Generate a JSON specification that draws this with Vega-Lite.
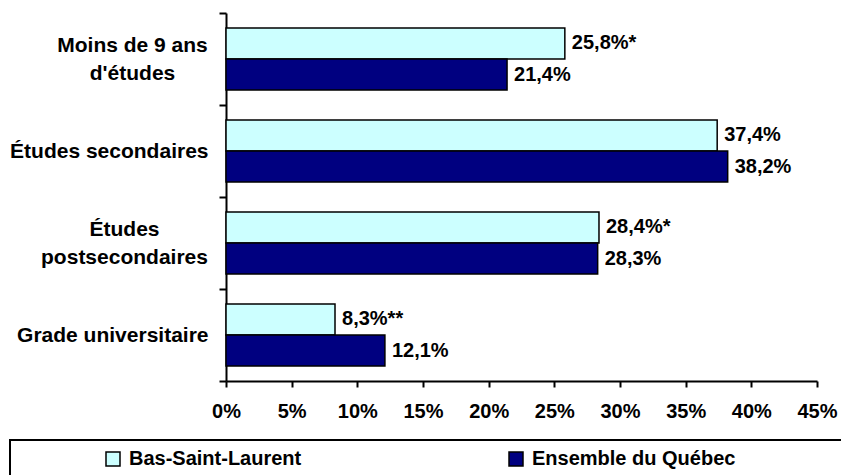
{
  "$schema": "https://vega.github.io/schema/vega-lite/v6.json",
  "width": 591,
  "height": 368,
  "autosize": "none",
  "padding": {"left": 226, "top": 13, "right": 24, "bottom": 94},
  "background": "white",
  "config": {"view": {"stroke": null}, "font": "Liberation Sans", "legend": {"strokeWidth": 2}},
  "data": {
    "values": [
      {"niveau": "Moins de 9 ans d'études", "region": "Bas-Saint-Laurent", "pct": 25.8, "etiquette": "25,8%*"},
      {"niveau": "Moins de 9 ans d'études", "region": "Ensemble du Québec", "pct": 21.4, "etiquette": "21,4%"},
      {"niveau": "Études secondaires", "region": "Bas-Saint-Laurent", "pct": 37.4, "etiquette": "37,4%"},
      {"niveau": "Études secondaires", "region": "Ensemble du Québec", "pct": 38.2, "etiquette": "38,2%"},
      {"niveau": "Études postsecondaires", "region": "Bas-Saint-Laurent", "pct": 28.4, "etiquette": "28,4%*"},
      {"niveau": "Études postsecondaires", "region": "Ensemble du Québec", "pct": 28.3, "etiquette": "28,3%"},
      {"niveau": "Grade universitaire", "region": "Bas-Saint-Laurent", "pct": 8.3, "etiquette": "8,3%**"},
      {"niveau": "Grade universitaire", "region": "Ensemble du Québec", "pct": 12.1, "etiquette": "12,1%"}
    ]
  },
  "encoding": {
    "y": {
      "field": "niveau",
      "type": "nominal",
      "sort": ["Moins de 9 ans d'études", "Études secondaires", "Études postsecondaires", "Grade universitaire"],
      "scale": {"paddingInner": 0, "paddingOuter": 0},
      "axis": {
        "title": null,
        "domainColor": "black",
        "domainWidth": 2,
        "tickColor": "black",
        "tickWidth": 2,
        "tickSize": 7,
        "tickBand": "extent",
        "labelFontSize": 21,
        "labelFontWeight": "bold",
        "labelColor": "black",
        "labelLineHeight": 28,
        "labelLimit": 300,
        "labelPadding": {
          "condition": [
            {"test": "datum.value == \"Moins de 9 ans d'études\"", "value": 87},
            {"test": "datum.value == 'Études postsecondaires'", "value": 95}
          ],
          "value": 11
        },
        "labelAlign": {
          "condition": {"test": "datum.value == \"Moins de 9 ans d'études\" || datum.value == 'Études postsecondaires'", "value": "center"},
          "value": "right"
        },
        "labelOffset": {
          "condition": {"test": "datum.value == \"Moins de 9 ans d'études\" || datum.value == 'Études postsecondaires'", "value": -14},
          "value": 0
        },
        "labelExpr": "datum.value == \"Moins de 9 ans d'études\" ? ['Moins de 9 ans', \"d'études\"] : datum.value == 'Études postsecondaires' ? ['Études', 'postsecondaires'] : datum.value"
      }
    },
    "yOffset": {
      "field": "region",
      "type": "nominal",
      "sort": ["Bas-Saint-Laurent", "Ensemble du Québec"],
      "scale": {"paddingInner": 0, "paddingOuter": 0.48}
    },
    "x": {
      "field": "pct",
      "type": "quantitative",
      "scale": {"domain": [0, 45], "nice": false},
      "axis": {
        "title": null,
        "grid": false,
        "values": [0, 5, 10, 15, 20, 25, 30, 35, 40, 45],
        "labelExpr": "datum.value + '%'",
        "domainColor": "black",
        "domainWidth": 2,
        "tickColor": "black",
        "tickWidth": 2,
        "tickSize": 6,
        "labelFontSize": 20,
        "labelFontWeight": "bold",
        "labelColor": "black",
        "labelPadding": 14,
        "labelFlush": false,
        "labelOverlap": false
      }
    }
  },
  "layer": [
    {
      "mark": {"type": "bar", "stroke": "black", "strokeWidth": 1.5},
      "encoding": {
        "color": {
          "field": "region",
          "type": "nominal",
          "scale": {"domain": ["Bas-Saint-Laurent", "Ensemble du Québec"], "range": ["#CCFFFF", "#000080"]},
          "legend": {
            "orient": "none",
            "legendX": -216,
            "legendY": 427,
            "direction": "horizontal",
            "title": "\u00a0",
            "titleOrient": "right",
            "titlePadding": 162,
            "titleFontSize": 20,
            "padding": 9,
            "strokeColor": "black",
            "symbolType": "square",
            "symbolSize": 196,
            "symbolStrokeColor": "black",
            "symbolStrokeWidth": 1.5,
            "symbolOpacity": 1,
            "symbolOffset": 84,
            "labelFontSize": 20,
            "labelFontWeight": "bold",
            "labelColor": "black",
            "labelOffset": 6,
            "labelLimit": 400,
            "columnPadding": 120
          }
        }
      }
    },
    {
      "mark": {"type": "text", "align": "left", "baseline": "middle", "dx": 7, "fontSize": 20, "fontWeight": "bold", "color": "black"},
      "encoding": {"text": {"field": "etiquette"}}
    }
  ]
}
